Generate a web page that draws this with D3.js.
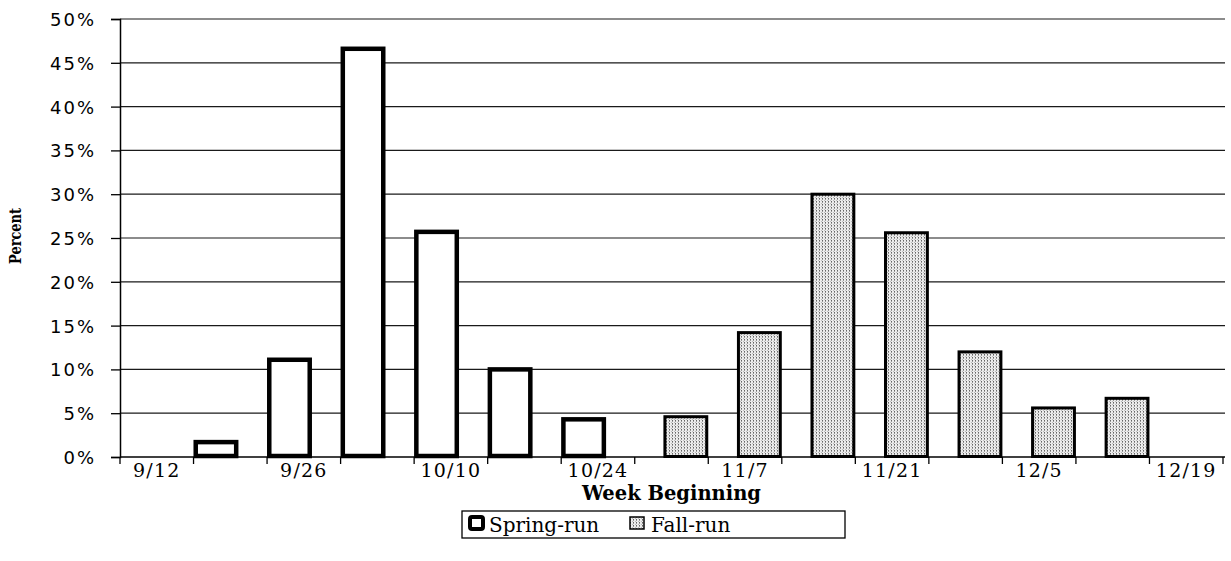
<!DOCTYPE html>
<html><head><meta charset="utf-8">
<script src="https://cdn.jsdelivr.net/npm/d3@7"></script>
<style>html,body{margin:0;padding:0;background:#fff;}svg{display:block;}</style>
</head><body>
<svg id="chart" width="1231" height="561"></svg>
<script>
const weeks = ["9/12","9/19","9/26","10/3","10/10","10/17","10/24","10/31","11/7","11/14","11/21","11/28","12/5","12/12","12/19"];
const tickLabels = ["9/12","9/26","10/10","10/24","11/7","11/21","12/5","12/19"];
const springRun = [0, 1.7, 11.1, 46.6, 25.7, 10.0, 4.3, 0, 0, 0, 0, 0, 0, 0, 0];
const fallRun   = [0, 0, 0, 0, 0, 0, 0, 4.6, 14.2, 30.0, 25.6, 12.0, 5.6, 6.7, 0];
const yTicks = [0,5,10,15,20,25,30,35,40,45,50];

const svg = d3.select("#chart");
const L = 120, R = 1223, T = 19, B = 457;
const x = d3.scaleBand().domain(weeks).range([L, R]).paddingInner(0).paddingOuter(0);
const y = d3.scaleLinear().domain([0,50]).range([B, T]);
const bw = x.bandwidth() * 0.61;

// pattern for fall-run
const defs = svg.append("defs");
const pat = defs.append("pattern").attr("id","stip").attr("patternUnits","userSpaceOnUse")
  .attr("width",3).attr("height",3);
pat.append("rect").attr("width",3).attr("height",3).attr("fill","#ececec");
pat.append("rect").attr("x",0).attr("y",0).attr("width",1).attr("height",1).attr("fill","#666");
pat.append("rect").attr("x",0).attr("y",1).attr("width",1).attr("height",1).attr("fill","#999");
pat.append("rect").attr("x",2).attr("y",2).attr("width",1).attr("height",1).attr("fill","#bbb");

// gridlines
svg.append("g").selectAll("line").data(yTicks.filter(d=>d>0)).join("line")
  .attr("x1",L).attr("x2",R+2).attr("y1",d=>y(d)).attr("y2",d=>y(d))
  .attr("stroke","#1a1a1a").attr("stroke-width",1.2);

// y axis
const yAxis = d3.axisLeft(y).tickValues(yTicks).tickFormat(d=>d+"%").tickSize(9).tickPadding(15);
const gy = svg.append("g").attr("transform",`translate(${L},0)`).call(yAxis);
gy.select(".domain").attr("stroke","#000").attr("stroke-width",1.5);
gy.selectAll(".tick line").attr("stroke","#000").attr("stroke-width",1.3);
gy.selectAll("text").attr("font-family","DejaVu Sans").attr("font-size",18).attr("letter-spacing",2)
  .attr("fill","#000").attr("dy","0.36em");

// x axis
const xAxis = d3.axisBottom(x).tickValues(tickLabels).tickSize(0).tickPadding(7);
const gx = svg.append("g").attr("transform",`translate(0,${B})`).call(xAxis);
gx.select(".domain").remove();
gx.selectAll("text").attr("font-family","DejaVu Serif").attr("font-size",19).attr("letter-spacing",1.2).attr("fill","#000");
svg.append("line").attr("x1",L).attr("x2",R+2).attr("y1",B).attr("y2",B).attr("stroke","#000").attr("stroke-width",1.5);
// tick marks at band boundaries
const bounds = weeks.map(w=>x(w)).concat([R]);
svg.append("g").selectAll("line").data(bounds).join("line")
  .attr("x1",d=>d).attr("x2",d=>d).attr("y1",B).attr("y2",B+7)
  .attr("stroke","#000").attr("stroke-width",1.3);

// bars
svg.append("g").selectAll("rect").data(weeks.map((w,i)=>({w,v:springRun[i]})).filter(d=>d.v>0)).join("rect")
  .attr("x",d=>x(d.w)+2.2).attr("width",bw-4.4)
  .attr("y",d=>y(d.v)).attr("height",d=>B-y(d.v)-1)
  .attr("fill","#fff").attr("stroke","#000").attr("stroke-width",4.5);
svg.append("g").selectAll("rect").data(weeks.map((w,i)=>({w,v:fallRun[i]})).filter(d=>d.v>0)).join("rect")
  .attr("x",d=>x(d.w)+x.bandwidth()-bw+1.5).attr("width",bw-3)
  .attr("y",d=>y(d.v)).attr("height",d=>B-y(d.v)-0.5)
  .attr("fill","url(#stip)").attr("stroke","#000").attr("stroke-width",3);

// axis titles
svg.append("text").attr("x",(L+R)/2).attr("y",500).attr("text-anchor","middle")
  .attr("font-family","DejaVu Serif").attr("font-weight","bold").attr("font-size",19.5).text("Week Beginning");
svg.append("text").attr("transform","translate(21,236) rotate(-90)").attr("text-anchor","middle")
  .attr("font-family","DejaVu Serif").attr("font-weight","bold").attr("font-size",16)
  .attr("textLength",56).attr("lengthAdjust","spacingAndGlyphs").text("Percent");

// legend
const lg = svg.append("g");
lg.append("rect").attr("x",462).attr("y",511).attr("width",383).attr("height",27)
  .attr("fill","#fff").attr("stroke","#000").attr("stroke-width",1.3);
lg.append("rect").attr("x",470).attr("y",517).attr("width",13).attr("height",12).attr("rx",2)
  .attr("fill","#fff").attr("stroke","#000").attr("stroke-width",4);
lg.append("text").attr("x",489).attr("y",532).attr("font-family","DejaVu Serif").attr("font-size",20).text("Spring-run");
lg.append("rect").attr("x",630).attr("y",517).attr("width",14).attr("height",12)
  .attr("fill","url(#stip)").attr("stroke","#000").attr("stroke-width",1.5);
lg.append("text").attr("x",651).attr("y",532).attr("font-family","DejaVu Serif").attr("font-size",20).text("Fall-run");
</script>
</body></html>
